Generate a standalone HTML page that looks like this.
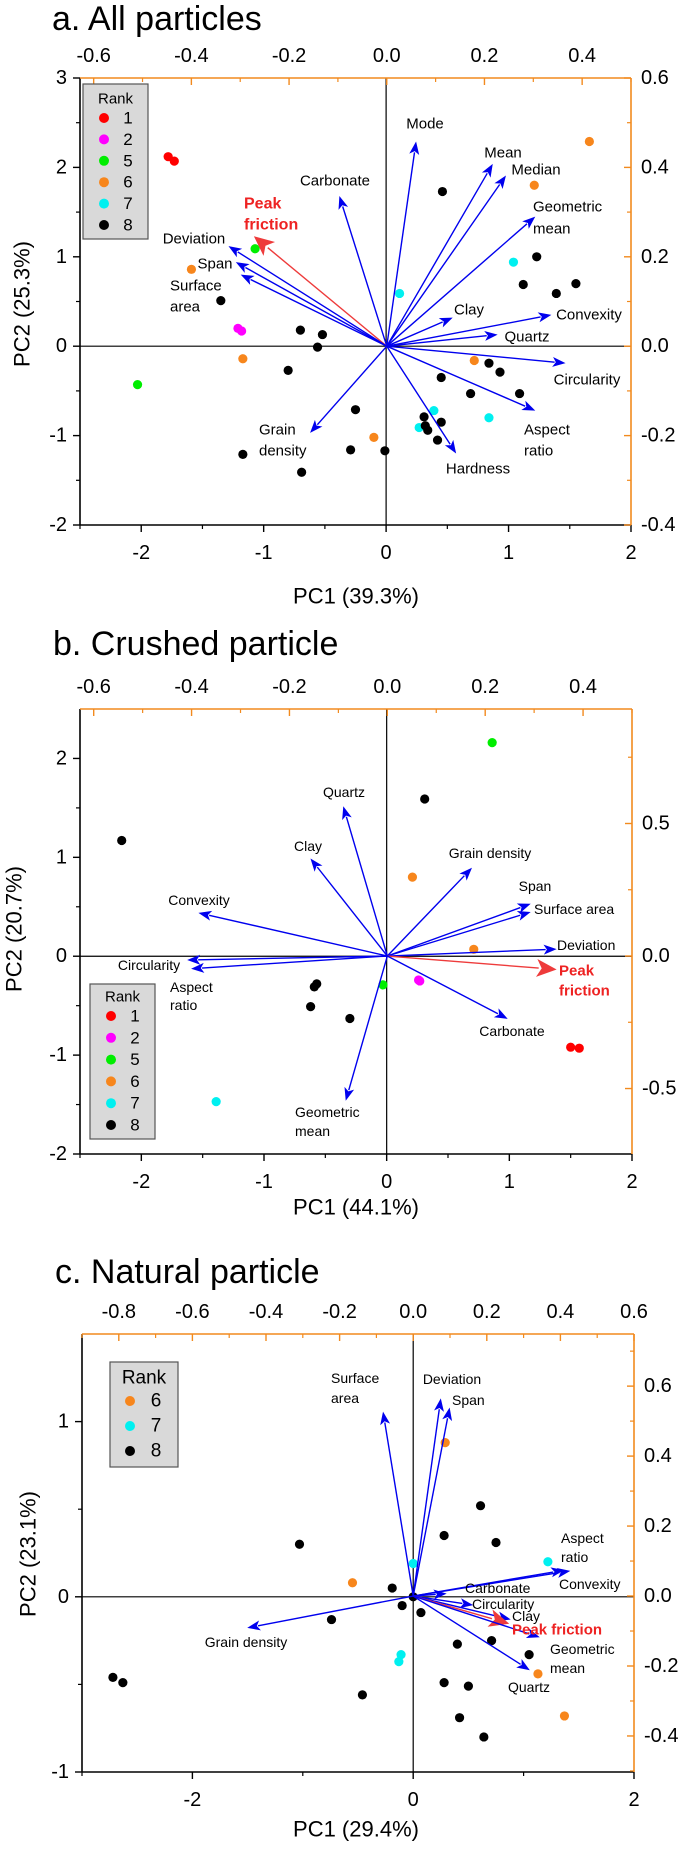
<!DOCTYPE html>
<html><head><meta charset="utf-8">
<style>
html,body{margin:0;padding:0;background:#fff;}
svg{display:block;font-family:"Liberation Sans",Arial,sans-serif;}
</style></head>
<body>
<svg id="fig" width="685" height="1855" viewBox="0 0 685 1855" xmlns="http://www.w3.org/2000/svg"></svg>
<script>
// ---------- Panel a data ----------
const aPC1 = [-1.78,-1.73,-1.21,-1.18,-1.07,-2.03,-1.59,-1.17,1.66,1.21,0.72,-0.10,0.11,1.04,0.39,0.27,0.84,-1.35,-0.70,-0.52,-0.56,-0.80,-0.25,-1.17,-0.69,-0.29,-0.01,0.46,1.23,1.12,1.39,1.55,0.84,0.93,0.45,0.69,1.09,0.31,0.45,0.34,0.32,0.42];
const aPC2 = [2.12,2.07,0.20,0.17,1.09,-0.43,0.86,-0.14,2.29,1.80,-0.16,-1.02,0.59,0.94,-0.72,-0.91,-0.80,0.51,0.18,0.13,-0.01,-0.27,-0.71,-1.21,-1.41,-1.16,-1.17,1.73,1.00,0.69,0.59,0.70,-0.19,-0.29,-0.35,-0.53,-0.53,-0.79,-0.85,-0.94,-0.89,-1.05];
const aRank = [1,1,2,2,5,5,6,6,6,6,6,6,7,7,7,7,7,8,8,8,8,8,8,8,8,8,8,8,8,8,8,8,8,8,8,8,8,8,8,8,8,8];
const aVars = ["Mode","Mean","Median","Geometric mean","Carbonate","Peak friction","Deviation","Span","Surface area","Clay","Convexity","Quartz","Circularity","Aspect ratio","Hardness","Grain density"];
const aLoad1 = [0.060,0.217,0.244,0.304,-0.097,-0.272,-0.324,-0.309,-0.299,0.135,0.337,0.227,0.366,0.304,0.142,-0.157];
const aLoad2 = [0.458,0.408,0.382,0.290,0.336,0.246,0.224,0.188,0.160,0.064,0.070,0.026,-0.038,-0.144,-0.240,-0.194];

// ---------- Panel b data ----------
const bPC1 = [0.86,-0.03,0.31,-2.16,-0.57,-0.59,-0.62,-0.30,0.21,0.71,0.26,0.27,1.50,1.57,-1.39];
const bPC2 = [2.16,-0.29,1.59,1.17,-0.28,-0.31,-0.51,-0.63,0.80,0.07,-0.24,-0.25,-0.92,-0.93,-1.47];
const bRank = [5,5,8,8,8,8,8,8,6,6,2,2,1,1,7];
const bVars = ["Quartz","Clay","Grain density","Span","Surface area","Deviation","Peak friction","Carbonate","Geometric mean","Convexity","Circularity","Aspect ratio"];
const bLoad1 = [-0.090,-0.157,0.173,0.293,0.293,0.346,0.346,0.246,-0.085,-0.386,-0.409,-0.401];
const bLoad2 = [0.565,0.368,0.333,0.197,0.166,0.026,-0.051,-0.237,-0.546,0.163,-0.015,-0.048];

// ---------- Panel c data ----------
const cPC1 = [0.29,-0.55,1.13,1.37,0.00,-0.11,-0.13,1.22,-1.03,0.61,0.28,0.75,-0.19,0.00,-0.10,0.07,-0.74,0.40,0.71,1.05,0.28,0.50,-0.46,0.42,0.64,-2.72,-2.63];
const cPC2 = [0.88,0.08,-0.44,-0.68,0.19,-0.33,-0.37,0.20,0.30,0.52,0.35,0.31,0.05,0.00,-0.05,-0.09,-0.13,-0.27,-0.25,-0.33,-0.49,-0.51,-0.56,-0.69,-0.80,-0.46,-0.49];
const cRank = [6,6,6,6,7,7,7,7,8,8,8,8,8,8,8,8,8,8,8,8,8,8,8,8,8,8,8];
const cVars = ["Surface area","Deviation","Span","Aspect ratio","Convexity","Carbonate","Circularity","Clay","Peak friction","Geometric mean","Quartz","Grain density"];
const cLoad1 = [-0.082,0.075,0.099,0.410,0.427,0.091,0.163,0.265,0.261,0.344,0.317,-0.451];
const cLoad2 = [0.527,0.565,0.539,0.074,0.072,0.007,-0.026,-0.067,-0.079,-0.118,-0.212,-0.091];

const rankColors = {1:"#ff0000",2:"#ff00ff",5:"#00ee00",6:"#f7861c",7:"#00f0f0",8:"#000000"};
const ORANGE = "#f28a1e";
const NS = "http://www.w3.org/2000/svg";
const svg = document.getElementById("fig");

function mk(tag, attrs, parent){
  const e = document.createElementNS(NS, tag);
  for (const k in attrs) e.setAttribute(k, attrs[k]);
  (parent||svg).appendChild(e);
  return e;
}
function txt(s, x, y, size, anchor, parent, extra){
  const t = mk("text", Object.assign({x:x, y:y, "font-size":size, "text-anchor":anchor||"start", "dominant-baseline":"central", fill:"#000"}, extra||{}), parent);
  t.textContent = s;
  return t;
}

function drawPanel(P){
  const g = mk("g", {});
  
  
  const X = v => P.L + (v - P.xd[0]) / (P.xd[1]-P.xd[0]) * (P.R - P.L);
  const Y = v => P.B - (v - P.yd[0]) / (P.yd[1]-P.yd[0]) * (P.B - P.T);
  const XT = v => P.L + (v - P.td[0]) / (P.td[1]-P.td[0]) * (P.R - P.L);
  const YR = v => P.B - (v - P.rd[0]) / (P.rd[1]-P.rd[0]) * (P.B - P.T);

  const title = txt(P.title, P.titleX, P.titleY, 34, "start", g);
  
  

  // zero lines
  const zl1 = mk("line", {x1:X(0), x2:X(0), y1:P.T, y2:P.B, stroke:"#000", "stroke-width":1.2}, g);
  
  
  const zl2 = mk("line", {x1:P.L, x2:P.R, y1:Y(0), y2:Y(0), stroke:"#000", "stroke-width":1.2}, g);
  
  

  // axis lines
  const ab = mk("line", {x1:P.L, x2:P.R, y1:P.B, y2:P.B, stroke:"#000", "stroke-width":1.6}, g);
  
  
  const al = mk("line", {x1:P.L, x2:P.L, y1:P.T, y2:P.B, stroke:"#000", "stroke-width":1.6}, g);
  
  
  const at = mk("line", {x1:P.L, x2:P.R, y1:P.T, y2:P.T, stroke:ORANGE, "stroke-width":1.6}, g);
  
  
  const ar = mk("line", {x1:P.R, x2:P.R, y1:P.T, y2:P.B, stroke:ORANGE, "stroke-width":1.6}, g);
  
  

  // bottom ticks
  P.xMinor.forEach(v => mk("line",{x1:X(v),x2:X(v),y1:P.B,y2:P.B+4,stroke:"#000","stroke-width":1.2},g));
  P.xTicks.forEach(v => {
    mk("line",{x1:X(v),x2:X(v),y1:P.B,y2:P.B+7,stroke:"#000","stroke-width":1.4},g);
    const t = txt(String(v), X(v), P.B+28, 20, "middle", g);
    
    
  });
  // left ticks
  P.yMinor.forEach(v => mk("line",{x1:P.L-4,x2:P.L,y1:Y(v),y2:Y(v),stroke:"#000","stroke-width":1.2},g));
  P.yTicks.forEach(v => {
    mk("line",{x1:P.L-7,x2:P.L,y1:Y(v),y2:Y(v),stroke:"#000","stroke-width":1.4},g);
    const t = txt(String(v), P.L-13, Y(v), 20, "end", g);
    
    
  });
  // top ticks (inward)
  P.tMinor.forEach(v => mk("line",{x1:XT(v),x2:XT(v),y1:P.T,y2:P.T+4,stroke:ORANGE,"stroke-width":1.2},g));
  P.tTicks.forEach(v => {
    mk("line",{x1:XT(v),x2:XT(v),y1:P.T,y2:P.T+7,stroke:ORANGE,"stroke-width":1.4},g);
    const t = txt(v.toFixed(1), XT(v), P.T-22, 20, "middle", g);
    
    
  });
  // right ticks (inward)
  P.rMinor.forEach(v => mk("line",{x1:P.R-4,x2:P.R,y1:YR(v),y2:YR(v),stroke:ORANGE,"stroke-width":1.2},g));
  P.rTicks.forEach(v => {
    mk("line",{x1:P.R-7,x2:P.R,y1:YR(v),y2:YR(v),stroke:ORANGE,"stroke-width":1.4},g);
    const t = txt(v.toFixed(1), P.R+10, YR(v), 20, "start", g);
    
    
  });

  // axis titles
  const xt = txt(P.xTitle, 356, P.xTitleY, 22, "middle", g);
  
  
  const yt = txt(P.yTitle, 0, 0, 22, "middle", g, {transform:"translate("+P.yTitleX+","+P.yTitleY+") rotate(-90)"});
  
  

  // points
  for (let i = 0; i < P.pc1.length; i++){
    const c = mk("circle",{cx:X(P.pc1[i]), cy:Y(P.pc2[i]), r:4.6, fill:rankColors[P.rank[i]]}, g);
    
    
  }

  // loading arrows
  const x0 = XT(0), y0 = YR(0);
  for (let i = 0; i < P.vars.length; i++){
    const isPF = P.vars[i] === "Peak friction";
    const col = isPF ? "#ee3b3b" : "#0000ee";
    const x1 = XT(P.l1[i]), y1 = YR(P.l2[i]);
    const dx = x1-x0, dy = y1-y0, len = Math.hypot(dx,dy);
    const ux = dx/len, uy = dy/len;
    const HL = isPF ? 20 : 13, HW = isPF ? 9 : 5;
    const bx = x1-ux*HL, by = y1-uy*HL;
    const ag = mk("g",{},g);
    
    
    mk("line",{x1:x0,y1:y0,x2:bx+ux*2,y2:by+uy*2,stroke:col,"stroke-width":1.4},ag);
    mk("polygon",{points:[x1,y1, bx-uy*HW,by+ux*HW, bx+ux*HL*0.25,by+uy*HL*0.25, bx+uy*HW,by-ux*HW].join(" "), fill:col},ag);
  }
  // loading labels (layout positions)
  P.labels.forEach(l => {
    const isPF = l[0].indexOf("Peak")===0 || l[0]==="friction";
    const t = txt(l[0], l[1], l[2], isPF ? P.lblSize+1 : P.lblSize, l[3], g, isPF ? {fill:"#ee2222","font-weight":"bold"} : {});
    
    
  });

  // legend
  const lg = mk("g",{},g);
  
  
  const Lg = P.legend;
  mk("rect",{x:Lg.x, y:Lg.y, width:Lg.w, height:Lg.h, fill:"#d9d9d9", stroke:"#555", "stroke-width":1.2}, lg);
  txt("Rank", Lg.x+Lg.w/2, Lg.rankY, Lg.rankSize, "middle", lg);
  Lg.ranks.forEach((r, k) => {
    const ey = Lg.y0 + k*Lg.dy;
    const e = mk("g",{},lg);
    
    
    mk("circle",{cx:Lg.dotX, cy:ey, r:5, fill:rankColors[r]}, e);
    txt(String(r), Lg.numX, ey, Lg.numSize, "middle", e);
  });
}

drawPanel({
  id:"a", title:"a. All particles", titleX:52, titleY:19,
  L:80, R:631, T:78, B:525, xd:[-2.5,2], yd:[-2,3], td:[-0.628,0.5], rd:[-0.4,0.6],
  xTicks:[-2,-1,0,1,2], xMinor:[-2.5,-1.5,-0.5,0.5,1.5],
  yTicks:[-2,-1,0,1,2,3], yMinor:[-1.5,-0.5,0.5,1.5,2.5],
  tTicks:[-0.6,-0.4,-0.2,0,0.2,0.4], tMinor:[-0.5,-0.3,-0.1,0.1,0.3,0.5],
  rTicks:[-0.4,-0.2,0,0.2,0.4,0.6], rMinor:[-0.3,-0.1,0.1,0.3,0.5],
  xTitle:"PC1 (39.3%)", xTitleY:596, yTitle:"PC2 (25.3%)", yTitleX:22, yTitleY:304,
  pc1:aPC1, pc2:aPC2, rank:aRank, vars:aVars, l1:aLoad1, l2:aLoad2, lblSize:15,
  labels:[["Mode",425,124,"middle"],["Mean",503,153,"middle"],["Median",536,170,"middle"],
    ["Geometric",533,207,"start"],["mean",533,229,"start"],["Carbonate",335,181,"middle"],
    ["Peak",244,204,"start"],["friction",244,225,"start"],["Deviation",194,239,"middle"],
    ["Span",215,264,"middle"],["Surface",170,286,"start"],["area",170,307,"start"],
    ["Clay",469,310,"middle"],["Convexity",589,315,"middle"],["Quartz",527,337,"middle"],
    ["Circularity",587,380,"middle"],["Aspect",524,430,"start"],["ratio",524,451,"start"],
    ["Hardness",478,469,"middle"],["Grain",259,430,"start"],["density",259,451,"start"]],
  legend:{x:83,y:84,w:65,h:155,rankY:99,rankSize:15,ranks:[1,2,5,6,7,8],y0:118,dy:21.4,dotX:104,numX:128,numSize:17}
});

drawPanel({
  id:"b", title:"b. Crushed particle", titleX:53, titleY:644,
  L:80, R:632, T:709, B:1154, xd:[-2.5,2], yd:[-2,2.5], td:[-0.628,0.5], rd:[-0.747,0.932],
  xTicks:[-2,-1,0,1,2], xMinor:[-2.5,-1.5,-0.5,0.5,1.5],
  yTicks:[-2,-1,0,1,2], yMinor:[-1.5,-0.5,0.5,1.5],
  tTicks:[-0.6,-0.4,-0.2,0,0.2,0.4], tMinor:[-0.5,-0.3,-0.1,0.1,0.3,0.5],
  rTicks:[-0.5,0,0.5], rMinor:[-0.25,0.25,0.75],
  xTitle:"PC1 (44.1%)", xTitleY:1207, yTitle:"PC2 (20.7%)", yTitleX:14, yTitleY:929,
  pc1:bPC1, pc2:bPC2, rank:bRank, vars:bVars, l1:bLoad1, l2:bLoad2, lblSize:14,
  labels:[["Quartz",344,792,"middle"],["Clay",308,846,"middle"],["Grain density",490,853,"middle"],
    ["Span",535,886,"middle"],["Surface area",534,909,"start"],["Deviation",557,945,"start"],
    ["Peak",559,971,"start"],["friction",559,991,"start"],["Carbonate",512,1031,"middle"],
    ["Geometric",295,1112,"start"],["mean",295,1131,"start"],["Convexity",199,900,"middle"],
    ["Circularity",149,965,"middle"],["Aspect",170,987,"start"],["ratio",170,1005,"start"]],
  legend:{x:90,y:984,w:65,h:155,rankY:997,rankSize:15,ranks:[1,2,5,6,7,8],y0:1016,dy:21.8,dotX:111,numX:135,numSize:17}
});

drawPanel({
  id:"c", title:"c. Natural particle", titleX:55, titleY:1272,
  L:82, R:634, T:1334, B:1772, xd:[-3,2], yd:[-1,1.5], td:[-0.9,0.6], rd:[-0.503,0.749],
  xTicks:[-2,0,2], xMinor:[-3,-1,1],
  yTicks:[-1,0,1], yMinor:[-0.5,0.5],
  tTicks:[-0.8,-0.6,-0.4,-0.2,0,0.2,0.4,0.6], tMinor:[-0.9,-0.7,-0.5,-0.3,-0.1,0.1,0.3,0.5],
  rTicks:[-0.4,-0.2,0,0.2,0.4,0.6], rMinor:[-0.5,-0.3,-0.1,0.1,0.3,0.5,0.7],
  xTitle:"PC1 (29.4%)", xTitleY:1829, yTitle:"PC2 (23.1%)", yTitleX:28, yTitleY:1554,
  pc1:cPC1, pc2:cPC2, rank:cRank, vars:cVars, l1:cLoad1, l2:cLoad2, lblSize:14,
  labels:[["Surface",331,1378,"start"],["area",331,1398,"start"],["Deviation",452,1379,"middle"],
    ["Span",452,1400,"start"],["Aspect",561,1538,"start"],["ratio",561,1557,"start"],
    ["Convexity",559,1584,"start"],["Carbonate",465,1588,"start"],["Circularity",472,1604,"start"],
    ["Clay",512,1616,"start"],["Peak friction",512,1630,"start"],["Geometric",550,1649,"start"],
    ["mean",550,1668,"start"],["Quartz",508,1687,"start"],["Grain density",246,1642,"middle"]],
  legend:{x:110,y:1362,w:68,h:105,rankY:1378,rankSize:19,ranks:[6,7,8],y0:1401,dy:25,dotX:130,numX:156,numSize:19}
});
</script>
</body></html>
